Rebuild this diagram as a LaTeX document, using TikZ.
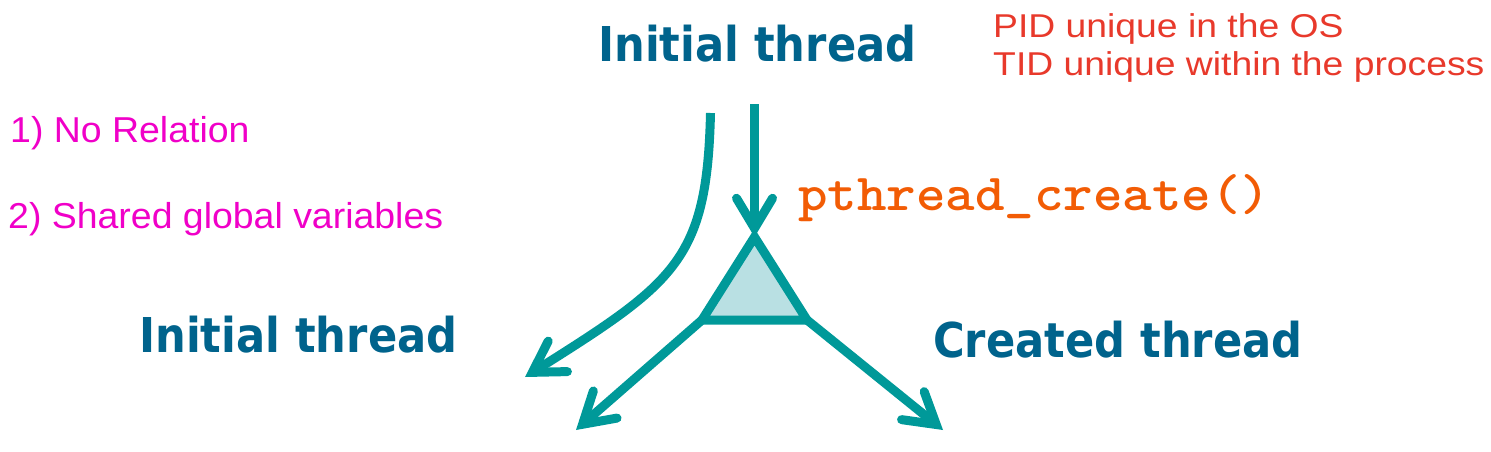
\documentclass[tikz,border=0pt]{standalone}
\usepackage{fontspec}
\usetikzlibrary{arrows.meta}
\newfontfamily\vfont{DejaVu Sans}
\newfontfamily\afont{Liberation Sans}
\definecolor{teal1}{RGB}{0,153,153}
\definecolor{tealfill}{RGB}{185,224,227}
\definecolor{tblue}{RGB}{0,99,140}
\definecolor{tred}{RGB}{232,57,43}
\definecolor{tmag}{RGB}{240,0,200}
\definecolor{torange}{RGB}{242,92,5}
\tikzset{
  bluelabel/.style={anchor=base west, inner sep=0pt, text=tblue, font=\vfont\bfseries\fontsize{48}{56}\selectfont, xscale=0.9},
  redlabel/.style={anchor=base west, inner sep=0pt, text=tred, font=\afont\fontsize{33}{38}\selectfont, xscale=1.13},
  maglabel/.style={anchor=base west, inner sep=0pt, text=tmag, font=\afont\fontsize{36}{42}\selectfont, xscale=1.04},
  codelabel/.style={anchor=base west, inner sep=0pt, text=torange, font=\ttfamily\bfseries\fontsize{52}{56}\selectfont, xscale=1.08},
  flow/.style={draw=teal1, line width=9pt, line cap=butt, line join=round, -{Straight Barb[length=30pt,width=36pt,line cap=round,line join=miter]}},
}
\begin{document}
\begin{tikzpicture}[x=1pt,y=-1pt]
\useasboundingbox (0,0) rectangle (1491,452);
% texts
\node[bluelabel] (top) at (598,62) {Initial thread};
\node[bluelabel] (left) at (139,352) {Initial thread};
\node[bluelabel] (created) at (933,357) {Created thread};
\node[redlabel] (pid) at (993,37.3) {PID unique in the OS};
\node[redlabel] (tid) at (993,75) {TID unique within the process};
\node[maglabel] (rel1) at (10,142) {1) No Relation};
\node[maglabel] (rel2) at (8,228) {2) Shared global variables};
\node[codelabel] (code) at (798,210) {pthread\_create()};
% triangle
\coordinate (ttop) at (754.5,237);
\coordinate (tleft) at (702,320);
\coordinate (tright) at (807,320);
\draw[draw=teal1, fill=tealfill, line width=9pt, line join=miter] (ttop) -- (tleft) -- (tright) -- cycle;
% arrows
\coordinate (vstart) at (754.5,104);
\coordinate (cstart) at (710.5,113);
\coordinate (cend) at (525,377);
\coordinate (lend) at (576,430);
\coordinate (rend) at (943,430);
\draw[flow] (vstart) -- (ttop);
\draw[flow] (cstart) .. controls (707,260) and (676,282) .. (cend);
\draw[flow] (tleft) -- (lend);
\draw[flow] (tright) -- (rend);
\end{tikzpicture}
\end{document}
